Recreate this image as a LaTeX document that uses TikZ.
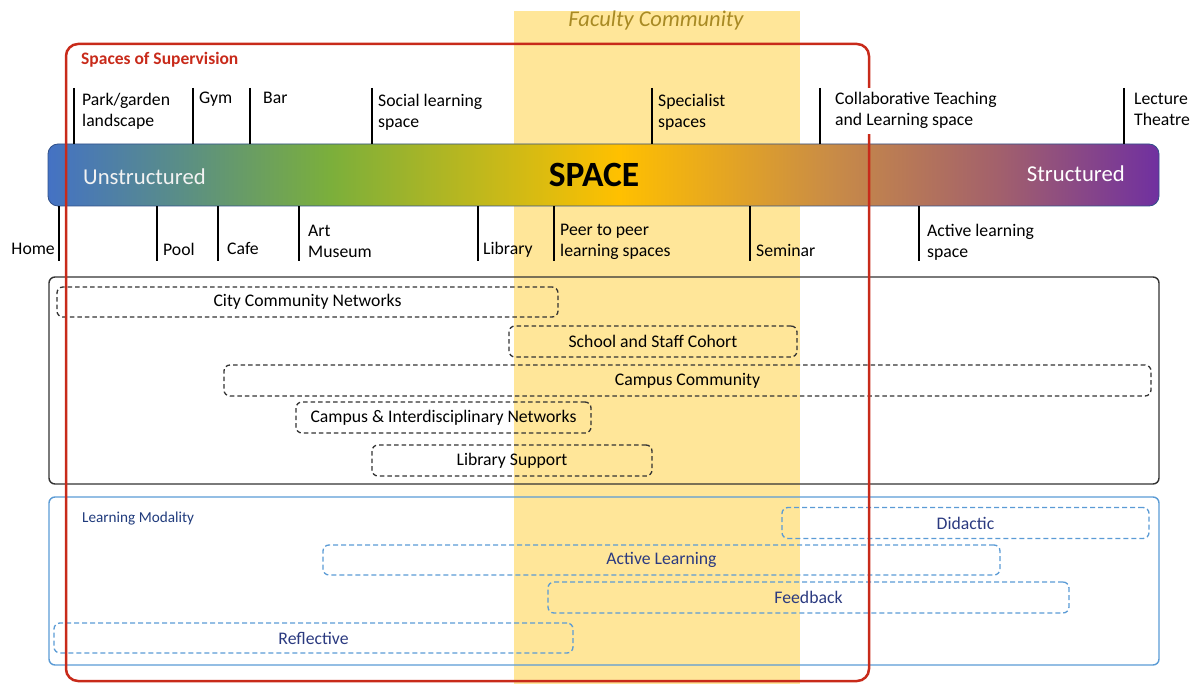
\documentclass[tikz,border=0pt]{standalone}
\usepackage{fontspec}
\setmainfont{Carlito}
\definecolor{facy}{HTML}{FFE699}
\definecolor{facT}{HTML}{A88A24}
\definecolor{supred}{HTML}{C82A1A}
\definecolor{lmblue}{HTML}{5B9BD5}
\definecolor{navy}{HTML}{2B3A80}
\definecolor{lmtext}{HTML}{203B7C}
\definecolor{cB}{HTML}{4472C4}
\definecolor{cT}{HTML}{5A8E86}
\definecolor{cG}{HTML}{7BAF3B}
\definecolor{cY}{HTML}{FFC000}
\definecolor{cO}{HTML}{E3A424}
\definecolor{cBr}{HTML}{C98C46}
\definecolor{cM}{HTML}{A2606C}
\definecolor{cP}{HTML}{7030A0}
\pgfdeclarehorizontalshading{spacebar}{100bp}{color(0bp)=(cB); color(25bp)=(cB); color(31bp)=(cT); color(37.7bp)=(cG); color(50.7bp)=(cY); color(55.7bp)=(cO); color(60.2bp)=(cBr); color(67.8bp)=(cM); color(75bp)=(cP); color(100bp)=(cP)}
\begin{document}
\begin{tikzpicture}[x=1pt,y=-1pt,
  lbl/.style={font=\fontsize{17.7}{21}\selectfont, align=left, inner sep=0pt, anchor=base west},
  tickline/.style={line width=1.8pt, black},
  dbox/.style={draw=black!80, dash pattern=on 4.5pt off 3pt, line width=1.3pt, rounded corners=6pt, inner sep=0pt, font=\fontsize{17.7}{21}\selectfont},
  bbox/.style={draw=lmblue, dash pattern=on 5pt off 3pt, line width=1.3pt, rounded corners=6pt, inner sep=0pt, text=navy, font=\fontsize{17.7}{21}\selectfont}
]
\useasboundingbox (0,0) rectangle (1197,684);
% faculty band
\fill[facy] (514,11) rectangle (800,684);
\node[anchor=base, inner sep=0, text=facT, font=\itshape\fontsize{22.5}{27}\selectfont] (fac) at (656,27) {Faculty Community};
% community box
\draw[black!80, line width=1.4pt, rounded corners=6pt] (49,277) rectangle (1159,484);
\node[dbox, minimum width=501pt, minimum height=30pt] (city) at (307.5,302) {City Community Networks};
\node[dbox, minimum width=288pt, minimum height=31pt] (school) at (653,341.5) {School and Staff Cohort};
\node[dbox, minimum width=927pt, minimum height=31pt] (campus) at (687.5,380.5) {Campus Community};
\node[dbox, minimum width=295pt, minimum height=31pt] (cin) at (443.5,417.5) {Campus \& Interdisciplinary Networks};
\node[dbox, minimum width=280pt, minimum height=31pt] (lib) at (512,460.5) {Library Support};
% learning modality box
\draw[lmblue, line width=1.4pt, rounded corners=6pt] (49,497) rectangle (1159,665);
\node[anchor=base west, inner sep=0, text=lmtext, font=\fontsize{15.2}{18}\selectfont] (lm) at (82,522) {Learning Modality};
\node[bbox, minimum width=367pt, minimum height=31pt] (did) at (965.5,523) {Didactic};
\node[bbox, minimum width=677pt, minimum height=30pt] (act) at (661.5,560) {Active Learning};
\node[bbox, minimum width=521pt, minimum height=31pt] (feed) at (808.5,597.5) {Feedback};
\node[bbox, minimum width=519pt, minimum height=30pt] (refl) at (313.5,638) {Reflective};
% space bar
\node[shading=spacebar, draw=cB!70!black, line width=0.8pt, rounded corners=10pt, minimum width=1111pt, minimum height=62pt, inner sep=0] (bar) at (603.5,175) {};
\node[anchor=base west, inner sep=0, text=white!95!black, font=\fontsize{22.7}{27}\selectfont] (uns) at (83,185) {Unstructured};
\node[anchor=base, inner sep=0, font=\bfseries\fontsize{35.5}{40}\selectfont] (spc) at (594,187) {SPACE};
\node[anchor=base east, inner sep=0, text=white, font=\fontsize{22.7}{27}\selectfont] (str) at (1125,182) {Structured};
% top ticks
\foreach \n/\x in {tp/74,tg/193,tb/250,ts/372,tsp/652,tc/820,tl/1124}{
  \coordinate (\n) at (\x,88);
  \draw[tickline] (\n) -- (\n |- bar.north);
}
% bottom ticks
\foreach \n/\x in {bh/59,bp/157,bc/218,ba/299,bl/478,bpe/554,bs/750,bac/919}{
  \coordinate (\n) at (\x,261);
  \draw[tickline] (bar.south -| \n) -- (\n);
}
% spaces of supervision
\draw[supred, line width=2.5pt, rounded corners=12pt] (66,44) rectangle (869,681);
\node[anchor=base west, inner sep=0, text=supred, font=\bfseries\fontsize{17.5}{20}\selectfont] (sos) at (81,65) {Spaces of Supervision};
% top labels (base = last line)
\node[lbl] (park) at (82,127) {Park/garden\\landscape};
\node[lbl] (gym) at (199,104) {Gym};
\node[lbl] (barl) at (263,104) {Bar};
\node[lbl] (social) at (378,128) {Social learning\\space};
\node[lbl] (spec) at (658,128) {Specialist\\spaces};
\node[lbl, fill=white, inner ysep=5pt] (collab) at (835,126) {Collaborative Teaching\\and Learning space};
\node[lbl] (lect) at (1134,126) {Lecture\\Theatre};
% bottom labels
\node[lbl, anchor=base east] (home) at (55,255) {Home};
\node[lbl] (pool) at (163,256) {Pool};
\node[lbl] (cafe) at (227,255) {Cafe};
\node[lbl] (art) at (308,258) {Art\\Museum};
\node[lbl] (library) at (483,255) {Library};
\node[lbl] (peer) at (560,257) {Peer to peer\\learning spaces};
\node[lbl] (sem) at (756,257) {Seminar};
\node[lbl] (actl) at (927,258) {Active learning\\space};
\end{tikzpicture}
\end{document}
